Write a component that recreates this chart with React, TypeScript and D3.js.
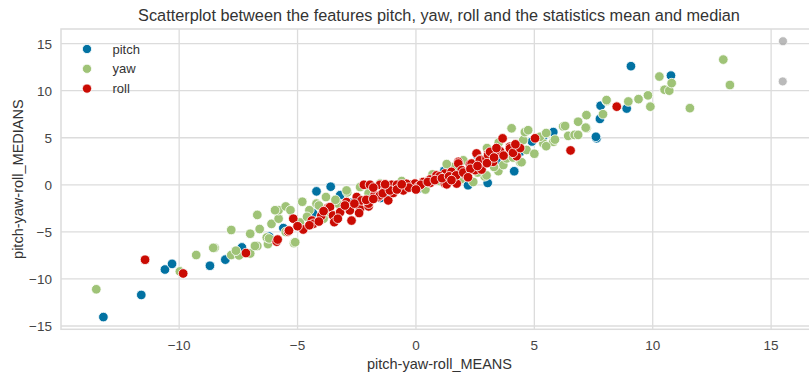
import React from "react";
import * as d3 from "d3";

const TITLE = "Scatterplot between the features pitch, yaw, roll and the statistics mean and median";
const X_LABEL = "pitch-yaw-roll_MEANS";
const Y_LABEL = "pitch-yaw-roll_MEDIANS";
const SERIES = ["pitch", "yaw", "roll"];
const X_TICKS = [-10, -5, 0, 5, 10, 15];
const Y_TICKS = [-15, -10, -5, 0, 5, 10, 15];

const pitch: [number, number][] = [
  [-13.2, -14.05], [-11.6, -11.7], [-10.6, -9.0], [-10.3, -8.4], [-8.7, -8.6], [-8.05, -7.95],
  [-7.35, -6.65], [-7.6, -7.1], [-4.2, -0.7], [-3.6, -0.2], [-3.2, -1.1], [-4.35, -3.0],
  [-5.6, -4.6], [-6.2, -5.5], [-2.8, -1.9], [-2.0, -1.5], [-1.2, -0.9], [-0.5, -0.3],
  [0.3, 0.2], [0.9, 0.6], [1.6, 1.1], [2.2, -0.05], [3.03, 0.2], [4.15, 1.44], [3.4, 2.5],
  [2.6, 3.1], [4.4, 3.5], [4.9, 4.6], [5.8, 5.6], [5.4, 5.2], [7.63, 4.94], [7.6, 5.1],
  [7.77, 7.0], [7.8, 8.4], [8.9, 8.1], [9.08, 12.6], [10.77, 11.6], [-1.5, -1.4], [1.2, 1.5],
  [0.1, -0.4],
];

const yaw: [number, number][] = [
  [-13.5, -11.1], [-9.97, -9.2], [-9.28, -7.46], [-8.5, -6.7], [-7.8, -7.46], [-7.47, -7.5],
  [-7.0, -7.3], [-6.7, -6.5], [-6.25, -6.3], [-5.15, -6.2], [-6.3, -5.6], [-6.6, -4.7],
  [-7.8, -4.8], [-6.7, -3.2], [-7.0, -5.2], [-6.1, -4.15], [-5.8, -3.6], [-5.8, -2.7],
  [-5.5, -2.3], [-4.8, -1.8], [-4.5, -2.7], [-4.2, -2.0], [-4.1, -2.2], [-3.8, -1.3],
  [-2.9, -0.8], [-2.93, -0.6], [-2.36, -0.24], [-1.52, 0.13], [-6.2, -5.7], [-5.95, -2.7],
  [-5.3, -2.7], [-5.1, -6.1], [-6.8, -6.5], [-7.6, -7.0], [-8.56, -6.7], [-5.5, -5.0],
  [-4.9, -4.0], [-3.6, -3.1], [-3.3, -2.0], [-2.4, -1.5], [-1.0, -0.7], [-0.6, 0.4],
  [0.4, -0.5], [1.0, 0.4], [1.6, 1.9], [2.42, 0.3], [2.9, 0.9], [2.98, 1.0], [3.48, 1.45],
  [3.69, 2.1], [3.83, 2.8], [4.4, 2.4], [4.46, 2.4], [4.67, 3.7], [5.0, 3.3], [5.38, 4.4],
  [5.8, 4.57], [4.53, 4.75], [4.04, 6.0], [4.6, 5.6], [4.74, 5.8], [5.24, 5.1], [5.5, 5.5],
  [5.5, 4.1], [5.87, 4.8], [6.22, 6.2], [6.3, 6.25], [6.43, 5.2], [6.7, 5.3], [6.85, 5.3],
  [6.85, 6.7], [7.2, 6.0], [7.17, 6.07], [7.2, 7.4], [7.9, 7.5], [8.05, 8.9], [8.05, 9.0],
  [8.97, 8.85], [9.4, 9.1], [9.8, 9.5], [9.9, 8.3], [10.28, 11.5], [10.5, 10.1], [10.7, 10.0],
  [10.8, 10.8], [11.57, 8.14], [12.98, 13.3], [13.26, 10.6], [2.0, 2.6], [3.0, 3.9], [3.5, 4.5],
  [1.3, 2.2], [-3.4, -1.6], [-2.0, -0.9], [-1.2, -0.3], [0.7, 1.1], [1.9, 0.6], [2.6, 1.3],
  [3.3, 1.9], [4.1, 2.9], [-4.6, -3.4], [-3.9, -3.6],
];

const roll: [number, number][] = [
  [-11.44, -7.96], [-9.83, -9.42], [-7.18, -7.25], [-5.88, -6.04], [-5.84, -5.82], [-5.4, -4.97],
  [-5.36, -4.86], [-5.18, -3.6], [-4.76, -4.75], [-4.4, -3.8], [-4.34, -4.15], [-3.7, -2.44],
  [-3.63, -2.37], [-3.5, -3.26], [-3.45, -3.97], [-3.2, -2.9], [-2.93, -1.84], [-2.79, -2.72],
  [-2.72, -3.8], [-2.5, -1.3], [-2.36, -2.55], [-2.3, -1.66], [-2.2, 0], [-2.0, -2.3],
  [-2.0, -2.0], [-1.94, 0], [-1.75, -1.12], [-1.59, -1.3], [-1.52, 0], [-1.52, -1.12],
  [-1.17, -1.66], [-1.03, 0], [-0.96, -0.87], [-0.8, 0], [-0.6, -0.4], [-0.53, -0.6],
  [-0.25, 0], [-0.04, 0.13], [0.31, 0.3], [0.59, 0.56], [0.87, 1.0], [1.22, 1.2], [1.22, 0.13],
  [1.3, 0.05], [1.5, 1.37], [1.72, 0.13], [1.79, 2.44], [1.79, 2.26], [1.93, 1.55], [2.28, 2.19],
  [2.35, 2.26], [2.5, 1.55], [2.56, 3.33], [2.7, 2.69], [2.7, 2.6], [2.77, 1.62], [2.98, 2.8],
  [3.05, 3.33], [3.05, 3.15], [3.13, 3.5], [3.26, 2.44], [3.55, 3.58], [3.66, 4.93], [3.97, 4.04],
  [3.97, 3.87], [4.25, 3.04], [5.03, 4.94], [6.53, 3.65], [8.48, 8.3], [0.1, -0.2], [0.6, 0.2],
  [1.0, 0.9], [-0.4, 0.1], [-1.3, -0.5], [2.1, 1.0],
  [-3.0, -2.2], [-2.6, -2.0], [-2.1, -1.6], [-1.8, -1.5], [-1.4, -0.9], [-1.1, -0.6],
  [-0.8, -0.5], [-0.3, -0.3], [0.2, 0.0], [0.5, 0.3], [0.8, 0.5], [1.1, 0.7], [1.4, 0.9],
  [1.7, 1.0], [2.0, 1.3], [2.3, 1.7], [2.6, 2.0], [3.0, 2.3], [3.3, 2.9], [3.7, 3.1],
  [4.1, 3.4], [4.4, 3.9], [-4.0, -3.3], [-3.9, -2.8], [-4.5, -4.3], [-5.0, -4.4], [-1.8, -0.3],
  [-1.3, 0.05], [-0.6, 0.05], [0.0, -0.5], [1.5, 0.5], [2.2, 0.8], [3.4, 3.9], [4.2, 4.3],
  [-3.3, -3.6], [-2.4, -3.0], [-4.1, -3.9],
];

const faded: [number, number][] = [[15.5, 15.25], [15.49, 10.98]];

const COLORS = ["#0272a2", "#9fc377", "#ca0b03"];
const FADED_COLOR = "#a9a9a9";

const W = 809;
const H = 373;
const M = { left: 61, top: 29, right: 818, bottom: 329.3 };
const FONT = "'Liberation Sans', Arial, sans-serif";

export default function App() {
  const x = d3.scaleLinear().domain([-14.99, 16.98]).range([M.left, M.right]);
  const y = d3.scaleLinear().domain([-15.35, 16.55]).range([M.bottom, M.top]);
  const data = [pitch, yaw, roll];
  const fmt = (v: number) => (v < 0 ? "\u2212" + Math.abs(v) : String(v));
  const grid = "#dcdcdc";
  const tickColor = "#444";

  return (
    <svg width={W} height={H} style={{ position: "absolute", left: 0, top: 0, background: "#fff" }} fontFamily={FONT}>
      <defs>
        <clipPath id="plot">
          <rect x={M.left} y={M.top} width={M.right - M.left} height={M.bottom - M.top} />
        </clipPath>
      </defs>
      <rect x={M.left} y={M.top} width={M.right - M.left} height={M.bottom - M.top} fill="#fff" stroke={grid} strokeWidth={1.5} />
      {X_TICKS.map((t) => (
        <line key={"gx" + t} x1={x(t)} x2={x(t)} y1={M.top} y2={M.bottom} stroke={grid} strokeWidth={1.3} />
      ))}
      {Y_TICKS.map((t) => (
        <line key={"gy" + t} x1={M.left} x2={M.right} y1={y(t)} y2={y(t)} stroke={grid} strokeWidth={1.3} />
      ))}
      <g clipPath="url(#plot)">
        {data.map((series, si) =>
          series.map((d, i) => (
            <circle key={si + "-" + i} cx={x(d[0])} cy={y(d[1])} r={4.8} fill={COLORS[si]} stroke="#fff" strokeWidth={0.8} />
          ))
        )}
        {faded.map((d, i) => (
          <circle key={"f" + i} cx={x(d[0])} cy={y(d[1])} r={4.5} fill={FADED_COLOR} stroke="#fff" strokeWidth={0.8} opacity={0.8} />
        ))}
      </g>
      {X_TICKS.map((t) => (
        <text key={"tx" + t} x={x(t)} y={350} textAnchor="middle" fontSize={13.5} fill={tickColor}>
          {fmt(t)}
        </text>
      ))}
      {Y_TICKS.map((t) => (
        <text key={"ty" + t} x={52} y={y(t) + 5} textAnchor="end" fontSize={13.5} fill={tickColor}>
          {fmt(t)}
        </text>
      ))}
      <text x={(M.left + M.right) / 2} y={369} textAnchor="middle" fontSize={14.5} fill="#333">
        {X_LABEL}
      </text>
      <text transform={`translate(23,${(M.top + M.bottom) / 2}) rotate(-90)`} textAnchor="middle" fontSize={14.5} fill="#333">
        {Y_LABEL}
      </text>
      <text x={439} y={21} textAnchor="middle" fontSize={16.3} fill="#333">
        {TITLE}
      </text>
      {SERIES.map((s, i) => (
        <g key={s}>
          <circle cx={87} cy={49 + i * 19.8} r={4.6} fill={COLORS[i]} stroke="#fff" strokeWidth={0.8} />
          <text x={112.5} y={49 + i * 19.8 + 4.5} fontSize={13} fill="#333">
            {s}
          </text>
        </g>
      ))}
    </svg>
  );
}
